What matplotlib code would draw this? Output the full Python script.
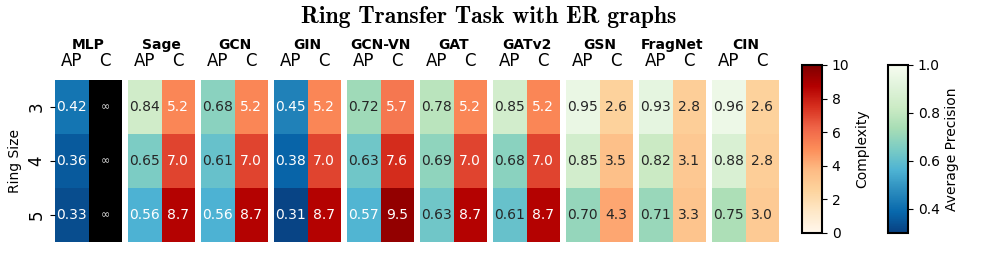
import numpy as np
import matplotlib
matplotlib.use("Agg")
import matplotlib.pyplot as plt
from matplotlib.colors import Normalize
import matplotlib.cm as cm

models = ["MLP", "Sage", "GCN", "GIN", "GCN-VN", "GAT", "GATv2", "GSN", "FragNet", "CIN"]
ring_sizes = ["3", "4", "5"]
col_labels = ["AP", "C"]

ap_mlp = [0.42, 0.36, 0.33]
ap_sage = [0.84, 0.65, 0.56]
ap_gcn = [0.68, 0.61, 0.56]
ap_gin = [0.45, 0.38, 0.31]
ap_gcnvn = [0.72, 0.63, 0.57]
ap_gat = [0.78, 0.69, 0.63]
ap_gatv2 = [0.85, 0.68, 0.61]
ap_gsn = [0.95, 0.85, 0.70]
ap_fragnet = [0.93, 0.82, 0.71]
ap_cin = [0.96, 0.88, 0.75]

c_mlp = [np.inf, np.inf, np.inf]
c_sage = [5.2, 7.0, 8.7]
c_gcn = [5.2, 7.0, 8.7]
c_gin = [5.2, 7.0, 8.7]
c_gcnvn = [5.7, 7.6, 9.5]
c_gat = [5.2, 7.0, 8.7]
c_gatv2 = [5.2, 7.0, 8.7]
c_gsn = [2.6, 3.5, 4.3]
c_fragnet = [2.8, 3.1, 3.3]
c_cin = [2.6, 2.8, 3.0]

ap_all = [ap_mlp, ap_sage, ap_gcn, ap_gin, ap_gcnvn, ap_gat, ap_gatv2, ap_gsn, ap_fragnet, ap_cin]
c_all = [c_mlp, c_sage, c_gcn, c_gin, c_gcnvn, c_gat, c_gatv2, c_gsn, c_fragnet, c_cin]

W, H = 997, 263
fig = plt.figure(figsize=(W / 100, H / 100), dpi=100)

ap_cmap = plt.get_cmap("GnBu_r").copy()
c_cmap = plt.get_cmap("OrRd").copy()
c_cmap.set_over("black")
ap_norm = Normalize(0.3, 1.0)
c_norm = Normalize(0, 10)


def text_color(rgba):
    r, g, b = [((c / 12.92) if c <= 0.03928 else ((c + 0.055) / 1.055) ** 2.4) for c in rgba[:3]]
    lum = 0.2126 * r + 0.7152 * g + 0.0722 * b
    return "#262626" if lum > 0.408 else "white"


for i, m in enumerate(models):
    left = (55 + 73 * i) / W
    ax = fig.add_axes([left, 1 - 242 / H, 67 / W, 162 / H])
    ap = np.array(ap_all[i]).reshape(3, 1)
    cc = np.array(c_all[i]).reshape(3, 1)
    ax.pcolormesh([0, 1], [0, 1, 2, 3], ap, cmap=ap_cmap, norm=ap_norm)
    cc_plot = np.where(np.isinf(cc), 1e9, cc)
    ax.pcolormesh([1, 2], [0, 1, 2, 3], cc_plot, cmap=c_cmap, norm=c_norm)
    for r in range(3):
        v = ap_all[i][r]
        ax.text(0.5, r + 0.5, f"{v:.2f}", ha="center", va="center", fontsize=10,
                color=text_color(ap_cmap(ap_norm(v))))
        cv = c_all[i][r]
        if np.isinf(cv):
            ax.text(1.5, r + 0.5, "\u221e", ha="center", va="center", fontsize=8, color="#e0e0e0")
        else:
            ax.text(1.5, r + 0.5, f"{cv:.1f}", ha="center", va="center", fontsize=10,
                    color=text_color(c_cmap(c_norm(cv))))
    ax.set_xlim(0, 2)
    ax.set_ylim(3, 0)
    ax.xaxis.tick_top()
    ax.set_xticks([0.5, 1.5])
    ax.set_xticklabels(col_labels, fontsize=12)
    ax.tick_params(axis="x", length=0, pad=7)
    for s in ax.spines.values():
        s.set_visible(False)
    ax.set_title(m, fontsize=10, fontweight="bold", pad=-1)
    if i == 0:
        ax.set_yticks([0.5, 1.5, 2.5])
        ax.set_yticklabels(ring_sizes, fontsize=12, rotation=90, va="center")
        ax.set_ylabel("Ring Size", fontsize=10)
    else:
        ax.set_yticks([])

cax1 = fig.add_axes([802 / W, 1 - 233 / H, 20 / W, 168 / H])
cb1 = fig.colorbar(cm.ScalarMappable(norm=c_norm, cmap=plt.get_cmap("OrRd")), cax=cax1)
cb1.set_label("Complexity", fontsize=10)
cb1.ax.tick_params(labelsize=10)
cb1.outline.set_linewidth(1.5)

cax2 = fig.add_axes([888 / W, 1 - 233 / H, 20 / W, 168 / H])
cb2 = fig.colorbar(cm.ScalarMappable(norm=ap_norm, cmap=ap_cmap), cax=cax2)
cb2.set_label("Average Precision", fontsize=10)
cb2.set_ticks([0.4, 0.6, 0.8, 1.0])
cb2.ax.tick_params(labelsize=10)
cb2.outline.set_linewidth(1.5)

fig.text(0.49, 1 - 17 / H, "Ring Transfer Task with ER graphs", ha="center", va="center",
         fontsize=17, family="cmb10")

fig.savefig("out.png", dpi=100)
